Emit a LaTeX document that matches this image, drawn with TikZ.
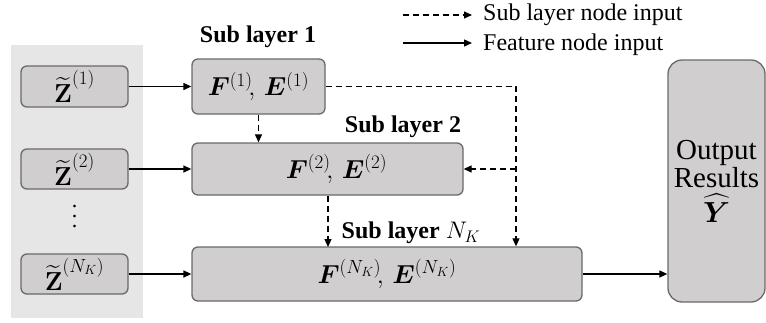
\documentclass[tikz,border=0pt]{standalone}
\usepackage{fix-cm}
\usepackage{amsmath}
\usepackage{bm}
\usepackage{fontspec}
\setmainfont{Liberation Serif}
\usetikzlibrary{arrows.meta}
\definecolor{boxfill}{HTML}{D0CECE}
\definecolor{boxline}{HTML}{6A6A6A}
\definecolor{panel}{HTML}{E6E6E6}
\tikzset{
  gbox/.style={draw=boxline, fill=boxfill, line width=1.3pt, rounded corners=6pt, inner sep=0pt, font=\fontsize{26}{30}\selectfont},
  feat/.style={-{Triangle[length=8pt,width=7pt]}, line width=1.3pt},
  sub/.style={-{Triangle[length=8pt,width=7pt]}, line width=1.1pt, dash pattern=on 6pt off 4pt},
  lbl/.style={font=\fontsize{24}{28}\selectfont\bfseries, inner sep=0pt},
  leg/.style={font=\fontsize{24}{28}\selectfont, inner sep=0pt, anchor=west},
}
\newcommand{\spx}[1]{^{\mbox{\fontsize{19}{20}\selectfont$#1$}}}
\newcommand{\zt}[1]{\bm{\widetilde{\mathbf{Z}}}\spx{(#1)}}
\begin{document}
\begin{tikzpicture}[x=1pt,y=-1pt]
\useasboundingbox (0,0) rectangle (766,322);
\fill[panel] (11,45) rectangle (143,318);
% input boxes
\node[gbox, minimum width=107pt, minimum height=41pt] (z1) at (74.5,86.5) {$\zt{1}$};
\node[gbox, minimum width=107pt, minimum height=40pt] (z2) at (74.5,169) {$\zt{2}$};
\node[gbox, minimum width=107pt, minimum height=40pt] (zn) at (74.5,274) {$\zt{N_K}$};
\node[font=\fontsize{22}{10}\selectfont, inner sep=0pt, align=center] (dots) at (74.5,217) {.\\.\\.};
% sub layer boxes
\node[gbox, minimum width=133pt, minimum height=55pt] (f1) at (258.5,86.5) {$\bm{F}\spx{(1)}\!,\,\bm{E}\spx{(1)}$};
\node[gbox, minimum width=271pt, minimum height=52pt] (f2) at (327.5,169) {\hspace*{18pt}$\bm{F}\spx{(2)}\!,\,\bm{E}\spx{(2)}$};
\node[gbox, minimum width=390pt, minimum height=54pt] (fn) at (387,274) {$\bm{F}\spx{(N_K)}\!,\,\bm{E}\spx{(N_K)}$};
\node[gbox, rounded corners=14pt, minimum width=97pt, minimum height=242pt, font=\fontsize{29}{28}\selectfont, align=center] (out) at (716.5,181) {Output\\Results\\[6pt]$\bm{\widehat{Y}}$\\[-28pt]};
% labels
\node[lbl] (l1) at (258,37) {Sub layer 1};
\node[lbl] (l2) at (403,127) {Sub layer 2};
\node[lbl] (l3) at (411,233) {Sub layer $N_K$};
% feature arrows
\draw[feat] (z1.east) -- (f1.west);
\draw[feat] (z2.east) -- (f2.west);
\draw[feat] (zn.east) -- (zn.east -| fn.west);
\draw[feat] (fn.east) -- (fn.east -| out.west);
% sub layer arrows
\coordinate (c1) at (516,86.5);
\coordinate (c2) at (516,169);
\draw[sub] (f1.east) -- (c1) -- (c1 |- fn.north);
\draw[sub] (c2) -- (f2.east);
\draw[sub] (f1.south) -- (f1.south |- f2.north);
\draw[sub] (f2.south -| 328,0) -- (328,247);
% legend
\coordinate (a1) at (403,15);
\coordinate (a2) at (472,15);
\coordinate (b1) at (403,43);
\coordinate (b2) at (472,43);
\draw[sub] (a1) -- (a2);
\draw[feat] (b1) -- (b2);
\node[leg] (t1) at (483,15) {Sub layer node input};
\node[leg] (t2) at (483,45) {Feature node input};
\end{tikzpicture}
\end{document}
